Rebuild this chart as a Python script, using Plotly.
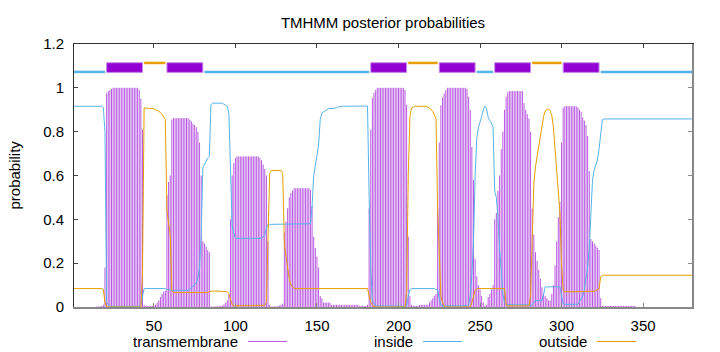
import plotly.graph_objects as go

# ---------------- data ----------------
residues = list(range(1, 381))

tm_prob = [
    0, 0, 0, 0, 0, 0, 0, 0, 0, 0,
    0, 0, 0, 0, 0.002, 0.002, 0.003, 0.004, 0.01, 0.18,
    0.975, 0.985, 0.99, 0.995, 1, 1, 1, 1, 1, 1,
    1, 1, 1, 1, 1, 1, 1, 1, 1, 1,
    0.99, 0.95, 0.81, 0.01, 0.005, 0.005, 0.005, 0.005, 0.005, 0.008,
    0.01, 0.02, 0.03, 0.045, 0.06, 0.07, 0.075, 0.51, 0.57, 0.6,
    0.855, 0.862, 0.862, 0.862, 0.862, 0.862, 0.862, 0.862, 0.862, 0.862,
    0.862, 0.855, 0.847, 0.836, 0.83, 0.82, 0.8, 0.75, 0.6, 0.3,
    0.29, 0.275, 0.26, 0.25, 0.002, 0.002, 0.002, 0.002, 0.003, 0.004,
    0.005, 0.006, 0.012, 0.02, 0.03, 0.06, 0.4, 0.6, 0.656, 0.68,
    0.687, 0.687, 0.687, 0.687, 0.687, 0.687, 0.687, 0.687, 0.687, 0.687,
    0.687, 0.687, 0.687, 0.687, 0.68, 0.67, 0.65, 0.63, 0.6, 0.3,
    0.01, 0.002, 0.002, 0.002, 0.003, 0.004, 0.006, 0.01, 0.015, 0.34,
    0.39, 0.45, 0.5, 0.52, 0.53, 0.542, 0.542, 0.542, 0.542, 0.542,
    0.542, 0.542, 0.542, 0.542, 0.542, 0.535, 0.46, 0.32, 0.27, 0.23,
    0.18, 0.05, 0.04, 0.02, 0.02, 0.02, 0.02, 0.02, 0.01, 0.01,
    0.01, 0.01, 0.01, 0.01, 0.01, 0.01, 0.01, 0.01, 0.01, 0.01,
    0.01, 0.01, 0.01, 0.01, 0.01, 0.005, 0.005, 0.005, 0.005, 0.005,
    0.01, 0.45, 0.81, 0.954, 0.977, 0.99, 1, 1, 1, 1,
    1, 1, 1, 1, 1, 1, 1, 1, 1, 1,
    1, 1, 1, 0.99, 0.923, 0.32, 0.05, 0.01, 0.005, 0.005,
    0.005, 0.005, 0.01, 0.01, 0.01, 0.01, 0.01, 0.01, 0.02, 0.03,
    0.04, 0.05, 0.06, 0.45, 0.75, 0.92, 0.955, 0.975, 0.99, 1,
    1, 1, 1, 1, 1, 1, 1, 1, 1, 1,
    1, 0.995, 0.96, 0.9, 0.73, 0.58, 0.22, 0.14, 0.1, 0.08,
    0.05, 0.02, 0.005, 0.01, 0.045, 0.06, 0.08, 0.1, 0.4, 0.43,
    0.53, 0.6, 0.72, 0.8, 0.9, 0.96, 0.98, 0.985, 0.985, 0.985,
    0.985, 0.985, 0.985, 0.985, 0.985, 0.985, 0.93, 0.9, 0.88, 0.86,
    0.8, 0.45, 0.33, 0.25, 0.21, 0.17, 0.13, 0.09, 0.06, 0.05,
    0.04, 0.03, 0.03, 0.06, 0.1, 0.19, 0.3, 0.41, 0.48, 0.75,
    0.91, 0.916, 0.916, 0.916, 0.916, 0.916, 0.916, 0.916, 0.916, 0.91,
    0.9, 0.89, 0.865, 0.85, 0.83, 0.78, 0.62, 0.31, 0.3, 0.29,
    0.28, 0.27, 0.26, 0.04, 0.005, 0.005, 0.005, 0.005, 0.005, 0.005,
    0.005, 0.005, 0.005, 0.005, 0.005, 0.005, 0.005, 0.005, 0.005, 0.005,
    0.005, 0.005, 0.005, 0.005, 0.005, 0, 0, 0, 0, 0,
    0, 0, 0, 0, 0, 0, 0, 0, 0, 0,
    0, 0, 0, 0, 0, 0, 0, 0, 0, 0,
    0, 0, 0, 0, 0, 0, 0, 0, 0, 0,
]

inside_prob = [
    0.916, 0.916, 0.916, 0.916, 0.916, 0.916, 0.916, 0.916, 0.916, 0.916,
    0.916, 0.916, 0.916, 0.916, 0.916, 0.916, 0.916, 0.916, 0.91, 0.8,
    0.02, 0.01, 0.003, 0.003, 0.003, 0.003, 0.003, 0.003, 0.003, 0.003,
    0.003, 0.003, 0.003, 0.003, 0.003, 0.003, 0.003, 0.003, 0.003, 0.003,
    0.003, 0.01, 0.04, 0.084, 0.084, 0.084, 0.084, 0.084, 0.084, 0.084,
    0.084, 0.084, 0.084, 0.084, 0.084, 0.084, 0.084, 0.08, 0.078, 0.077,
    0.076, 0.076, 0.076, 0.076, 0.076, 0.076, 0.076, 0.076, 0.076, 0.076,
    0.076, 0.08, 0.087, 0.095, 0.1, 0.11, 0.13, 0.18, 0.33, 0.634,
    0.65, 0.665, 0.68, 0.687, 0.923, 0.93, 0.93, 0.93, 0.93, 0.93,
    0.93, 0.93, 0.925, 0.92, 0.916, 0.88, 0.55, 0.37, 0.336, 0.315,
    0.313, 0.313, 0.313, 0.313, 0.313, 0.313, 0.313, 0.313, 0.313, 0.313,
    0.313, 0.313, 0.313, 0.313, 0.313, 0.313, 0.32, 0.33, 0.36, 0.377,
    0.377, 0.377, 0.377, 0.377, 0.377, 0.377, 0.377, 0.377, 0.377, 0.377,
    0.377, 0.377, 0.377, 0.377, 0.377, 0.377, 0.377, 0.377, 0.377, 0.377,
    0.377, 0.377, 0.377, 0.377, 0.377, 0.38, 0.46, 0.6, 0.645, 0.69,
    0.74, 0.855, 0.885, 0.89, 0.895, 0.9, 0.905, 0.905, 0.905, 0.905,
    0.905, 0.908, 0.913, 0.916, 0.916, 0.916, 0.916, 0.916, 0.916, 0.916,
    0.916, 0.916, 0.916, 0.916, 0.916, 0.916, 0.916, 0.916, 0.916, 0.916,
    0.917, 0.5, 0.17, 0.03, 0.015, 0.005, 0.005, 0.005, 0.005, 0.005,
    0.005, 0.005, 0.005, 0.005, 0.005, 0.005, 0.005, 0.005, 0.005, 0.005,
    0.005, 0.005, 0.005, 0.005, 0.003, 0.05, 0.08, 0.084, 0.084, 0.084,
    0.084, 0.084, 0.084, 0.084, 0.084, 0.084, 0.084, 0.084, 0.084, 0.084,
    0.084, 0.084, 0.08, 0.08, 0.04, 0.01, 0.005, 0.005, 0.005, 0.005,
    0.005, 0.005, 0.005, 0.005, 0.005, 0.005, 0.005, 0.005, 0.005, 0.005,
    0.005, 0.005, 0.01, 0.05, 0.15, 0.3, 0.6, 0.77, 0.817, 0.84,
    0.87, 0.9, 0.916, 0.905, 0.865, 0.85, 0.84, 0.82, 0.53, 0.5,
    0.41, 0.27, 0.15, 0.06, 0.02, 0.01, 0.01, 0.01, 0.01, 0.01,
    0.01, 0.01, 0.01, 0.01, 0.01, 0.01, 0.01, 0.01, 0.01, 0.01,
    0.005, 0.01, 0.02, 0.03, 0.03, 0.03, 0.03, 0.03, 0.06, 0.092,
    0.092, 0.092, 0.092, 0.092, 0.092, 0.092, 0.092, 0.092, 0.092, 0.05,
    0.015, 0.012, 0.012, 0.012, 0.012, 0.012, 0.012, 0.012, 0.012, 0.012,
    0.025, 0.035, 0.05, 0.08, 0.13, 0.18, 0.27, 0.42, 0.58, 0.625,
    0.645, 0.67, 0.72, 0.8, 0.855, 0.858, 0.858, 0.858, 0.858, 0.858,
    0.858, 0.858, 0.858, 0.858, 0.858, 0.858, 0.858, 0.858, 0.858, 0.858,
    0.858, 0.858, 0.858, 0.858, 0.858, 0.858, 0.858, 0.858, 0.858, 0.858,
    0.858, 0.858, 0.858, 0.858, 0.858, 0.858, 0.858, 0.858, 0.858, 0.858,
    0.858, 0.858, 0.858, 0.858, 0.858, 0.858, 0.858, 0.858, 0.858, 0.858,
    0.858, 0.858, 0.858, 0.858, 0.858, 0.858, 0.858, 0.858, 0.858, 0.858,
]

outside_prob = [
    0.084, 0.084, 0.084, 0.084, 0.084, 0.084, 0.084, 0.084, 0.084, 0.084,
    0.084, 0.084, 0.084, 0.084, 0.084, 0.084, 0.084, 0.084, 0.08, 0.02,
    0, 0, 0, 0, 0, 0, 0, 0, 0, 0,
    0, 0, 0, 0, 0, 0, 0, 0, 0, 0,
    0, 0, 0.15, 0.908, 0.908, 0.908, 0.908, 0.908, 0.908, 0.905,
    0.9, 0.897, 0.893, 0.887, 0.88, 0.867, 0.855, 0.44, 0.38, 0.33,
    0.075, 0.066, 0.066, 0.066, 0.066, 0.066, 0.066, 0.066, 0.066, 0.066,
    0.066, 0.066, 0.066, 0.066, 0.066, 0.066, 0.066, 0.066, 0.066, 0.066,
    0.066, 0.066, 0.066, 0.07, 0.073, 0.073, 0.073, 0.073, 0.073, 0.073,
    0.073, 0.073, 0.073, 0.073, 0.07, 0.06, 0.03, 0.01, 0.005, 0.005,
    0.005, 0.005, 0.005, 0.005, 0.005, 0.005, 0.005, 0.005, 0.005, 0.005,
    0.005, 0.005, 0.005, 0.005, 0.005, 0.005, 0.005, 0.008, 0.02, 0.32,
    0.61, 0.623, 0.623, 0.623, 0.623, 0.623, 0.623, 0.623, 0.61, 0.29,
    0.23, 0.17, 0.13, 0.1, 0.09, 0.084, 0.084, 0.084, 0.084, 0.084,
    0.084, 0.084, 0.084, 0.084, 0.084, 0.084, 0.084, 0.084, 0.084, 0.084,
    0.084, 0.084, 0.084, 0.084, 0.084, 0.084, 0.084, 0.084, 0.084, 0.084,
    0.084, 0.084, 0.084, 0.084, 0.084, 0.084, 0.084, 0.084, 0.084, 0.084,
    0.084, 0.084, 0.084, 0.084, 0.084, 0.084, 0.084, 0.084, 0.084, 0.084,
    0.084, 0.05, 0.02, 0.01, 0, 0, 0, 0, 0, 0,
    0, 0, 0, 0, 0, 0, 0, 0, 0, 0,
    0, 0, 0, 0, 0.07, 0.6, 0.87, 0.908, 0.912, 0.916,
    0.916, 0.916, 0.916, 0.916, 0.916, 0.916, 0.916, 0.912, 0.908, 0.9,
    0.893, 0.875, 0.86, 0.45, 0.2, 0.05, 0.02, 0.005, 0, 0,
    0, 0, 0, 0, 0, 0, 0, 0, 0, 0,
    0, 0, 0, 0, 0.02, 0.05, 0.076, 0.084, 0.084, 0.084,
    0.084, 0.084, 0.084, 0.084, 0.084, 0.084, 0.084, 0.084, 0.084, 0.084,
    0.084, 0.084, 0.084, 0.084, 0.084, 0.01, 0.005, 0.005, 0.005, 0.005,
    0.005, 0.005, 0.005, 0.005, 0.005, 0.005, 0.005, 0.005, 0.005, 0.005,
    0.05, 0.33, 0.56, 0.64, 0.69, 0.72, 0.77, 0.82, 0.87, 0.895,
    0.9, 0.904, 0.895, 0.875, 0.82, 0.72, 0.61, 0.5, 0.43, 0.2,
    0.076, 0.069, 0.069, 0.069, 0.069, 0.069, 0.069, 0.069, 0.069, 0.069,
    0.069, 0.069, 0.069, 0.069, 0.069, 0.069, 0.069, 0.069, 0.072, 0.072,
    0.075, 0.08, 0.084, 0.137, 0.145, 0.145, 0.145, 0.145, 0.145, 0.145,
    0.145, 0.145, 0.145, 0.145, 0.145, 0.145, 0.145, 0.145, 0.145, 0.145,
    0.145, 0.145, 0.145, 0.145, 0.145, 0.145, 0.145, 0.145, 0.145, 0.145,
    0.145, 0.145, 0.145, 0.145, 0.145, 0.145, 0.145, 0.145, 0.145, 0.145,
    0.145, 0.145, 0.145, 0.145, 0.145, 0.145, 0.145, 0.145, 0.145, 0.145,
    0.145, 0.145, 0.145, 0.145, 0.145, 0.145, 0.145, 0.145, 0.145, 0.145,
]

assert len(tm_prob) == len(inside_prob) == len(outside_prob) == len(residues)

# predicted topology (residue ranges)
tm_segments = [(21, 43), (58, 80), (183, 205), (225, 247), (259, 281), (301, 323)]
inside_segments = [(1, 20), (81, 182), (248, 258), (324, 380)]
outside_segments = [(44, 57), (206, 224), (282, 300)]

x_ticks = [50, 100, 150, 200, 250, 300, 350]
y_ticks = [0, 0.2, 0.4, 0.6, 0.8, 1.0, 1.2]
y_ticktext = ["0", "0.2", "0.4", "0.6", "0.8", "1", "1.2"]
legend_names = ["transmembrane", "inside", "outside"]

# ---------------- style ----------------
PURPLE = "#9400D3"
PURPLE_IMP = "rgba(148,0,211,0.65)"
PURPLE_KEY = "rgba(148,0,211,0.65)"
BLUE = "#56B4E9"
ORANGE = "#E69F00"
FONT = "Liberation Sans, Arial, sans-serif"
FS = 15

fig = go.Figure()

# transmembrane impulses
imp_x, imp_y = [], []
for r, v in zip(residues, tm_prob):
    imp_x += [r, r, None]
    imp_y += [0, v, None]
fig.add_trace(go.Scatter(x=imp_x, y=imp_y, mode="lines",
                         line=dict(color=PURPLE_IMP, width=1), hoverinfo="skip"))
fig.add_trace(go.Scatter(x=residues, y=inside_prob, mode="lines",
                         line=dict(color=BLUE, width=1)))
fig.add_trace(go.Scatter(x=residues, y=outside_prob, mode="lines",
                         line=dict(color=ORANGE, width=1)))

# topology strip
Y_IN, Y_OUT, BOX_LO, BOX_HI = 1.0725, 1.1135, 1.0705, 1.1145
for s, e in inside_segments:
    fig.add_trace(go.Scatter(x=[s, e], y=[Y_IN, Y_IN], mode="lines",
                             line=dict(color=BLUE, width=2.5)))
for s, e in outside_segments:
    fig.add_trace(go.Scatter(x=[s, e], y=[Y_OUT, Y_OUT], mode="lines",
                             line=dict(color=ORANGE, width=2.5)))
for s, e in tm_segments:
    fig.add_trace(go.Scatter(x=[s, e, e, s, s],
                             y=[BOX_LO, BOX_LO, BOX_HI, BOX_HI, BOX_LO],
                             mode="lines", fill="toself", fillcolor=PURPLE,
                             line=dict(color="#c48ae8", width=1)))

# invisible trace for mirrored axes
fig.add_trace(go.Scatter(x=[1], y=[0], xaxis="x2", yaxis="y2", mode="markers",
                         marker=dict(opacity=0), hoverinfo="skip"))

L, R, T, B = 74, 28, 44, 45
W, H = 720, 352
pw, ph = W - L - R, H - T - B


def px2paper_x(px):
    return (px - L) / pw


def px2paper_y(py):
    return (H - B - py) / ph


fig.update_layout(
    width=W, height=H,
    margin=dict(l=L, r=R, t=T, b=B, pad=0),
    paper_bgcolor="white", plot_bgcolor="white",
    showlegend=False,
    font=dict(family=FONT, size=FS, color="black"),
    title=dict(text="TMHMM posterior probabilities", x=0.5, xref="paper",
               xanchor="center", y=1 - 22.5 / H, yref="container",
               yanchor="middle", font=dict(size=FS, family=FONT, color="black")),
    xaxis=dict(range=[1, 380], tickvals=x_ticks, ticks="inside", ticklen=4,
               tickcolor="#888", showline=True, linecolor="#888", linewidth=2,
               showgrid=False, zeroline=False, ticklabelstandoff=4,
               tickfont=dict(size=FS, family=FONT, color="black")),
    xaxis2=dict(range=[1, 380], tickvals=x_ticks, ticks="inside", ticklen=4,
                tickcolor="#444", overlaying="x", side="top", showline=True,
                linecolor="#333", linewidth=1, showgrid=False, zeroline=False,
                showticklabels=False),
    yaxis=dict(range=[0, 1.2], tickvals=y_ticks, ticktext=y_ticktext,
               ticks="inside", ticklen=4, tickcolor="#444", showline=True,
               linecolor="#333", linewidth=1, showgrid=False, zeroline=False,
               ticklabelstandoff=6,
               tickfont=dict(size=FS, family=FONT, color="black")),
    yaxis2=dict(range=[0, 1.2], tickvals=y_ticks, ticks="inside", ticklen=4,
                tickcolor="#888", overlaying="y", side="right", showline=True,
                linecolor="#888", linewidth=2, showgrid=False, zeroline=False,
                showticklabels=False),
)

# y-axis label
fig.add_annotation(text="probability", xref="paper", yref="paper",
                   x=px2paper_x(14), y=0.5, textangle=-90, showarrow=False,
                   xanchor="center", yanchor="middle",
                   font=dict(size=FS, family=FONT, color="black"))

# key (text right-aligned, then a line sample)
key_text_right = [240, 415, 589]
key_line = [(248, 287), (423, 462), (597, 636)]
key_colors = [PURPLE_KEY, BLUE, ORANGE]
key_y = 341.5
for name, tx, (l0, l1), c in zip(legend_names, key_text_right, key_line, key_colors):
    fig.add_annotation(text=name, xref="paper", yref="paper",
                       x=px2paper_x(tx), y=px2paper_y(key_y), showarrow=False,
                       xanchor="right", yanchor="middle",
                       font=dict(size=FS, family=FONT, color="black"))
    fig.add_shape(type="line", xref="paper", yref="paper",
                  x0=px2paper_x(l0), x1=px2paper_x(l1),
                  y0=px2paper_y(key_y), y1=px2paper_y(key_y),
                  line=dict(color=c, width=1))

fig.write_html("out.html")
